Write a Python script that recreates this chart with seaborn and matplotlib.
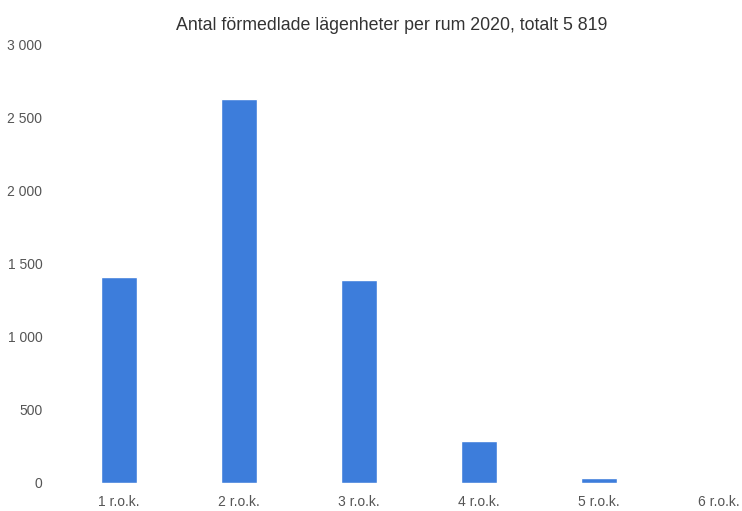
import matplotlib
matplotlib.use("Agg")
import matplotlib.pyplot as plt
import seaborn as sns
import pandas as pd
from matplotlib.ticker import FuncFormatter

# values
rum = ["1 r.o.k.", "2 r.o.k.", "3 r.o.k.", "4 r.o.k.", "5 r.o.k.", "6 r.o.k."]
antal = [1410, 2630, 1390, 290, 35, 0]
y_ticks = [0, 500, 1000, 1500, 2000, 2500, 3000]
title = "Antal förmedlade lägenheter per rum 2020, totalt 5 819"

sns.set_theme(style="white")
plt.rcParams["font.family"] = ["Liberation Sans", "DejaVu Sans"]

df = pd.DataFrame({"rum": rum, "antal": antal})

fig = plt.figure(figsize=(7.42, 5.11), dpi=100)
# axes run a bit past the right edge, as in the cropped original
ax = fig.add_axes([0.0795, 0.055, 0.970, 0.857])

sns.barplot(data=df, x="rum", y="antal", color="#3d7ddb", saturation=1,
            width=0.3, ax=ax)

ax.set_ylim(0, 3000)
ax.set_xlim(-0.5, 5.5)
ax.set_yticks(y_ticks)
ax.yaxis.set_major_formatter(
    FuncFormatter(lambda v, p: f"{int(v):,}".replace(",", " ")))
ax.set_xlabel("")
ax.set_ylabel("")
ax.tick_params(axis="both", length=0, labelsize=10, colors="#555555")
ax.tick_params(axis="y", pad=12)
ax.tick_params(axis="x", pad=9)
sns.despine(ax=ax, left=True, bottom=True)

fig.text(0.528, 0.951, title, ha="center", va="center", fontsize=12.8,
         color="#333333")

fig.savefig("out.png", dpi=100)
